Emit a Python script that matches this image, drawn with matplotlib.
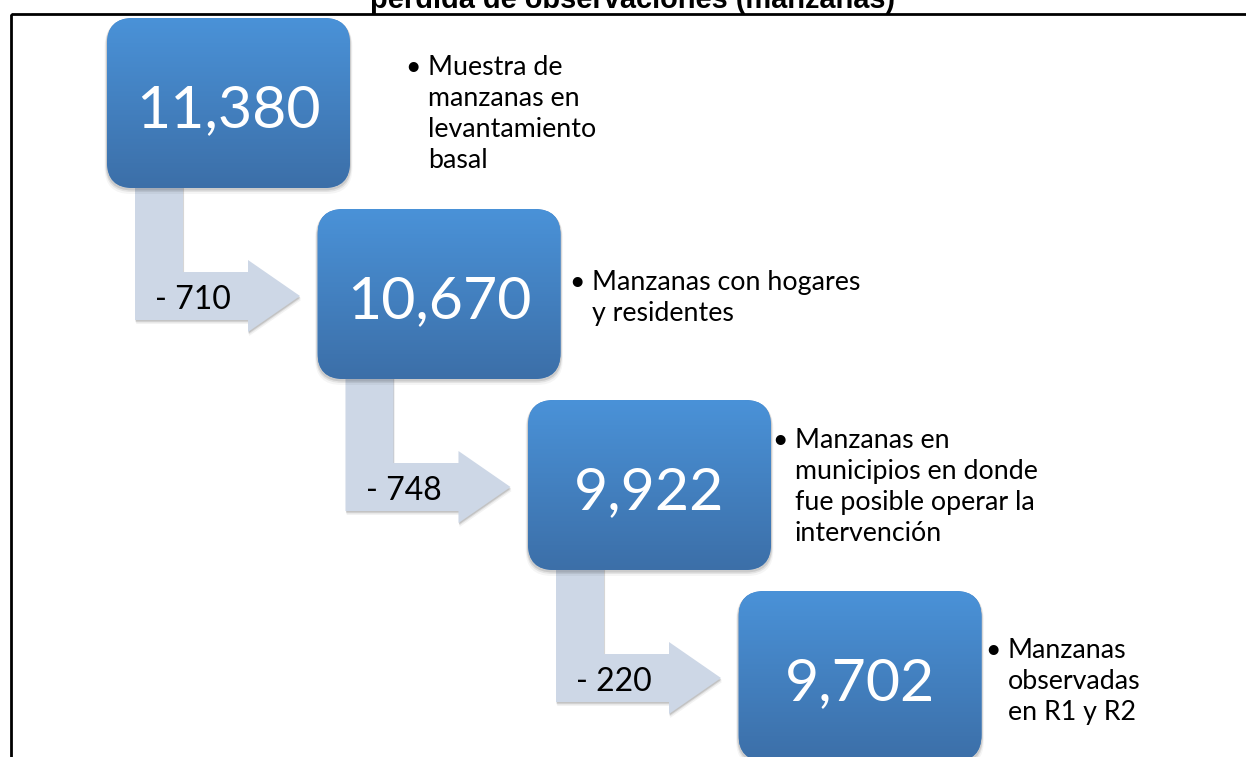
import numpy as np
import matplotlib
matplotlib.use("Agg")
import matplotlib.pyplot as plt
from matplotlib.patches import FancyBboxPatch, Polygon, Rectangle
from matplotlib.colors import LinearSegmentedColormap

# ---------------- data ----------------
title = "pérdida de observaciones (manzanas)"
counts = [11380, 10670, 9922, 9702]
drops = [710, 748, 220]
descriptions = [
    ["Muestra de", "manzanas en", "levantamiento", "basal"],
    ["Manzanas con hogares", "y residentes"],
    ["Manzanas en", "municipios en donde", "fue posible operar la", "intervención"],
    ["Manzanas", "observadas", "en R1 y R2"],
]

# ---------------- layout ----------------
W, H = 1246, 757
fig = plt.figure(figsize=(W / 100, H / 100), dpi=100)
ax = fig.add_axes([0, 0, 1, 1])
ax.set_xlim(0, W)
ax.set_ylim(H, 0)
ax.axis("off")

FONT = ["Lato", "DejaVu Sans"]
px = 0.72  # points per pixel at dpi 100

box_x0, box_y0, box_dx, box_dy = 107, 18, 210.5, 191
box_w, box_h, radius = 243, 170, 26
text_x = [428, 592, 795, 1008]
text_y0 = [75, 290, 448, 658]
line_h = 31

cmap = LinearSegmentedColormap.from_list("box", ["#4A92D8", "#3C6FA8"])
arrow_col = "#CDD7E6"

# frame
ax.add_patch(Rectangle((10.5, 13.5), 1300, 800, fill=False, edgecolor="black",
                       linewidth=2.0, zorder=1))

# title (upper part cut off)
ax.text(633, 8.5, title, ha="center", va="baseline", fontsize=29 * px,
        fontweight="bold", family=["Liberation Sans", "DejaVu Sans"], color="black", zorder=2)

# arrows
for i, d in enumerate(drops):
    L = box_x0 + i * box_dx
    B = box_y0 + i * box_dy + box_h
    pts = [(L + 28, B - 6), (L + 76, B - 6), (L + 76, B + 84), (L + 141, B + 84),
           (L + 141, B + 72), (L + 193, B + 108), (L + 141, B + 144),
           (L + 141, B + 132), (L + 28, B + 132)]
    for k, a in [(4, 0.05), (2.5, 0.08), (1.5, 0.12)]:
        sp = [(x + k * 0.3, y + k) for x, y in pts]
        ax.add_patch(Polygon(sp, closed=True, facecolor="black", edgecolor="none",
                             alpha=a, zorder=3))
    ax.add_patch(Polygon(pts, closed=True, facecolor=arrow_col, edgecolor="none", zorder=4))
    ax.text(L + 48, B + 121, f"- {d}", ha="left", va="baseline",
            fontsize=32 * px, family=FONT, color="black", zorder=5)

# boxes
grad = np.linspace(0, 1, 256).reshape(-1, 1)
for i, c in enumerate(counts):
    x0 = box_x0 + i * box_dx
    y0 = box_y0 + i * box_dy
    for k, a in [(6, 0.04), (4, 0.07), (2.5, 0.10)]:
        ax.add_patch(FancyBboxPatch((x0 + radius - k * 0.4, y0 + radius + k * 0.4),
                                    box_w - 2 * radius + k * 0.8, box_h - 2 * radius + k * 0.6,
                                    boxstyle=f"round,pad={radius}", facecolor="black",
                                    edgecolor="none", alpha=a, zorder=5))
    patch = FancyBboxPatch((x0 + radius, y0 + radius), box_w - 2 * radius, box_h - 2 * radius,
                           boxstyle=f"round,pad={radius}", facecolor="#4682C4",
                           edgecolor="none", zorder=6)
    ax.add_patch(patch)
    im = ax.imshow(grad, cmap=cmap, aspect="auto", extent=(x0, x0 + box_w, y0 + box_h, y0),
                   origin="upper", zorder=7, interpolation="bilinear")
    im.set_clip_path(patch)
    ax.text(x0 + box_w / 2, y0 + 109, f"{c:,}", ha="center", va="baseline",
            fontsize=59 * px, family=FONT, color="white", zorder=8)

    # description
    for j, line in enumerate(descriptions[i]):
        ax.text(text_x[i], text_y0[i] + j * line_h, line, ha="left", va="baseline",
                fontsize=26.8 * px, family=FONT, color="black", zorder=8)
    ax.text(text_x[i] - 7, text_y0[i], "•", ha="right", va="baseline",
            fontsize=26.8 * px, family=FONT, color="black", zorder=8)

ax.set_xlim(0, W)
ax.set_ylim(H, 0)
fig.savefig("out.png", dpi=100)
